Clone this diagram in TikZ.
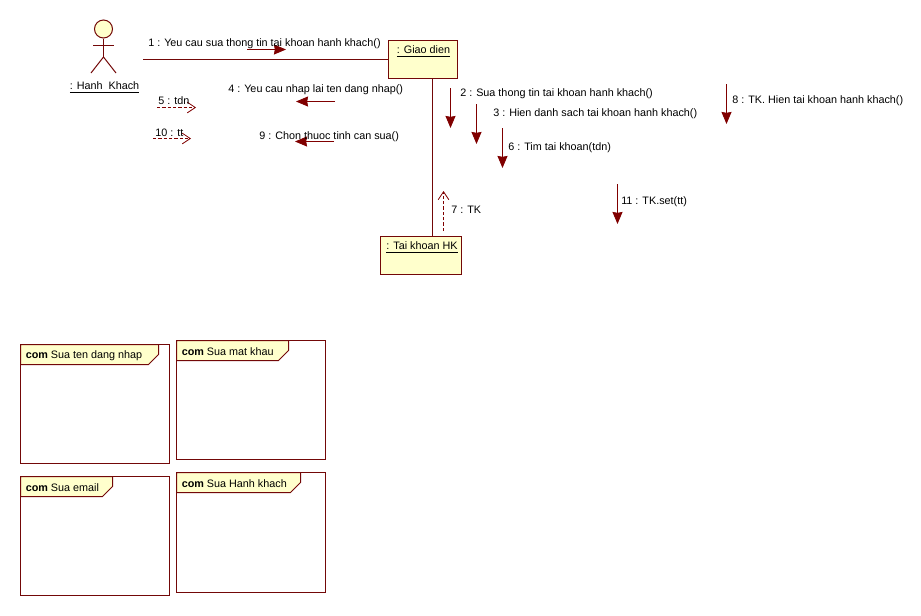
\documentclass[tikz,border=0pt]{standalone}
\usepackage{fontspec}
\setmainfont{Liberation Sans}
\usetikzlibrary{arrows.meta}
\definecolor{umlred}{rgb}{0.5,0,0}
\definecolor{umlline}{rgb}{0.45,0.03,0.03}
\definecolor{umlyellow}{rgb}{1,1,0.8}
\tikzset{
  umltext/.style={inner sep=0pt,anchor=west,yshift=-1pt,font=\fontsize{8.1}{10}\selectfont,text=black},
  objbox/.style={draw=umlline,fill=umlyellow,line width=0.75pt,inner sep=0pt},
  umllink/.style={draw=umlline,line width=0.75pt},
  callarrow/.style={draw=umlred,line width=0.75pt,-{Stealth[inset=0.6pt,length=9pt,width=7.5pt]}},
  replyarrow/.style={draw=umlred,line width=0.6pt,dashed,dash pattern=on 2.5pt off 1.5pt,-{Straight Barb[length=6pt,width=8pt]}}
}
\newcommand{\drawmessage}[8]{
  \coordinate (#1start) at (#2,#3);
  \coordinate (#1end) at (#4,#5);
  \draw[#6] (#1start) -- (#1end);
  \node[umltext] (#1label) at #7 {#8};
}
\newcommand{\drawcomframe}[7]{
  \draw[umllink] (#2,#3) rectangle (#4,#5);
  \draw[umllink,fill=umlyellow] (#2,#3) -- (#6,#3) -- (#6,#3+10) -- (#6-10,#3+20) -- (#2,#3+20) -- cycle;
  \node[umltext] (#1) at (#2+5,#3+10) {\textbf{com} #7};
}

\begin{document}
\begin{tikzpicture}[x=0.75pt,y=-0.75pt]
  \useasboundingbox[fill=white] (0,0) rectangle (921,615);

  % actor
  \node[circle,objbox,minimum size=13.5pt] (actorhead) at (103.5,29) {};
  \coordinate (actorhip) at (103.5,57);
  \coordinate (actorleft) at (93,45.5);
  \coordinate (actorright) at (114,45.5);
  \coordinate (actorfootl) at (91,73);
  \coordinate (actorfootr) at (116,73);
  \draw[umllink] (actorhead) -- (actorhip);
  \draw[umllink] (actorleft) -- (actorright);
  \draw[umllink] (actorfootl) -- (actorhip) -- (actorfootr);
  \node[umltext,anchor=center] (actorlabel) at (104.5,86) {\underline{: Hanh\ \ Khach}};

  % objects
  \node[objbox,minimum width=51.75pt,minimum height=28.5pt] (giaodien) at (423,59.5) {};
  \node[umltext,anchor=center] (giaodienlabel) at (423.5,50) {\underline{: Giao dien}};
  \node[objbox,minimum width=60.75pt,minimum height=28.5pt] (taikhoan) at (421,255.5) {};
  \node[umltext,anchor=center] (taikhoanlabel) at (422,246) {\underline{: Tai khoan HK}};

  % links
  \coordinate (actorport) at (143,59.5);
  \draw[umllink] (actorport) -- (giaodien);
  \draw[umllink] ([xshift=7.125pt]giaodien.south) -- ([xshift=8.625pt]taikhoan.north);

  % messages
  \drawmessage{msga}{247}{49.5}{286}{49.5}{callarrow}{(148,42.5)}{1 : Yeu cau sua thong tin tai khoan hanh khach()}
  \drawmessage{msgb}{450.5}{88}{450.5}{128}{callarrow}{(460,92)}{2 : Sua thong tin tai khoan hanh khach()}
  \drawmessage{msgc}{476.5}{104}{476.5}{144}{callarrow}{(493,112)}{3 : Hien danh sach tai khoan hanh khach()}
  \drawmessage{msgd}{335}{101.5}{296}{101.5}{callarrow}{(228,88)}{4 : Yeu cau nhap lai ten dang nhap()}
  \drawmessage{msge}{157}{107.5}{196}{107.5}{replyarrow}{(158,99)}{5 : tdn}
  \drawmessage{msgf}{502.5}{128}{502.5}{168}{callarrow}{(508,146)}{6 : Tim tai khoan(tdn)}
  \drawmessage{msgg}{443.5}{231}{443.5}{191}{replyarrow}{(451,208)}{7 : TK}
  \drawmessage{msgh}{726.5}{84}{726.5}{124}{callarrow}{(732,99)}{8 : TK. Hien tai khoan hanh khach()}
  \drawmessage{msgi}{334}{141.5}{295}{141.5}{callarrow}{(259,135)}{9 : Chon thuoc tinh can sua()}
  \drawmessage{msgj}{153}{138.5}{191}{138.5}{replyarrow}{(155,131)}{10 : tt}
  \drawmessage{msgk}{617.5}{184}{617.5}{224}{callarrow}{(621,200)}{11 : TK.set(tt)}

  % communication frames
  \drawcomframe{comtendangnhap}{20.5}{344.5}{169.5}{463.5}{158.5}{Sua ten dang nhap}
  \drawcomframe{commatkhau}{176.5}{340.5}{325.5}{459.5}{288.5}{Sua mat khau}
  \drawcomframe{comemail}{20.5}{476.5}{169.5}{595.5}{112.5}{Sua email}
  \drawcomframe{comhanhkhach}{176.5}{472.5}{325.5}{592.5}{300.5}{Sua Hanh khach}
\end{tikzpicture}
\end{document}
